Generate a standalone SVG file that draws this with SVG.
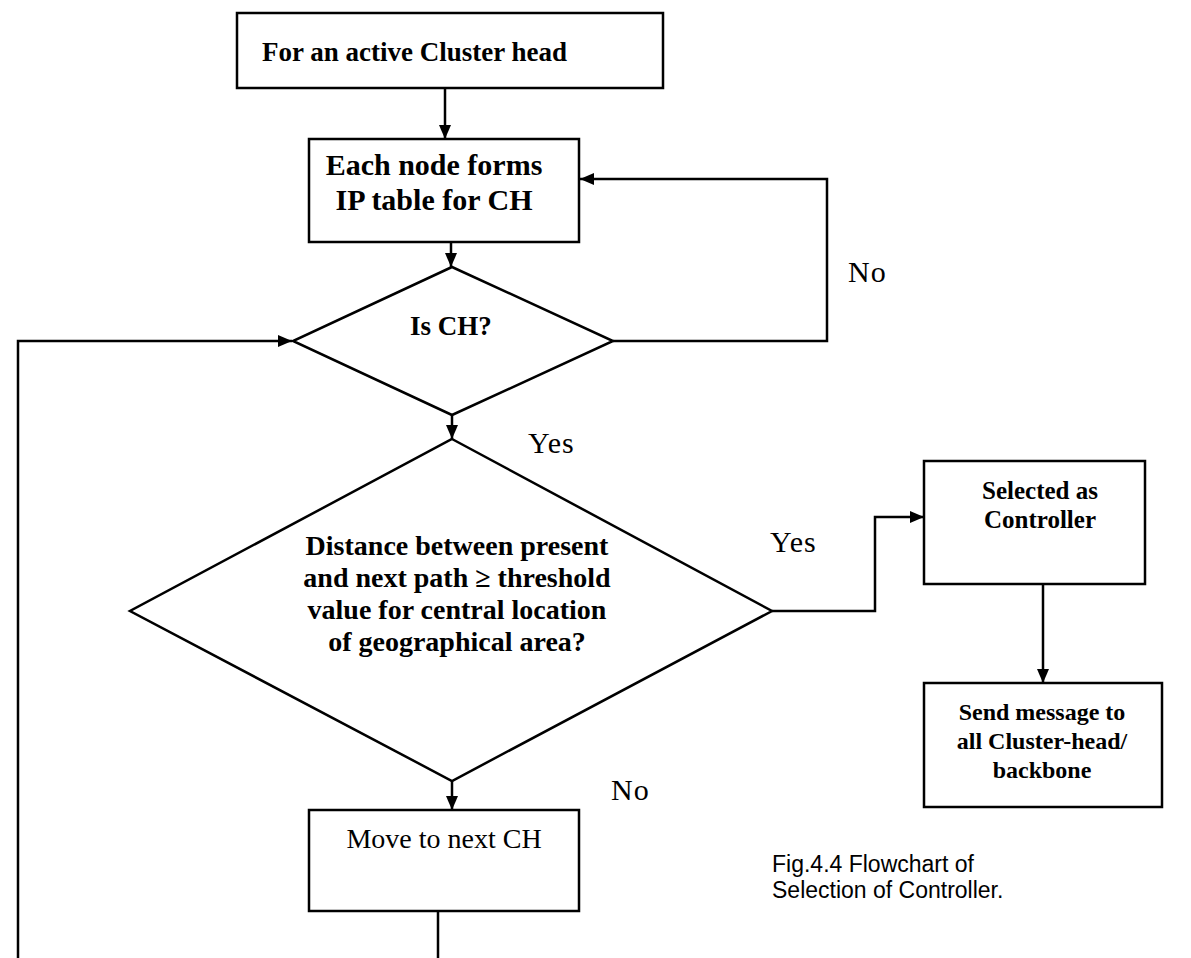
<svg xmlns="http://www.w3.org/2000/svg" width="1191" height="958" viewBox="0 0 1191 958">
  <style>
    .box { fill: #ffffff; stroke: #000000; stroke-width: 2.5; }
    .dec { fill: #ffffff; stroke: #000000; stroke-width: 2.5; stroke-linejoin: miter; }
    .edge { fill: none; stroke: #000000; stroke-width: 2.5; }
    .bold { font-family: "Liberation Serif", "Times New Roman", serif; font-weight: bold; fill: #000; }
    .reg { font-family: "Liberation Serif", "Times New Roman", serif; fill: #000; }
    .lbl { font-family: "Liberation Serif", "Times New Roman", serif; font-size: 30px; letter-spacing: 1px; fill: #000; }
    .cap { font-family: "Liberation Sans", Arial, sans-serif; font-size: 23px; fill: #000; }
    .mid { text-anchor: middle; }
  </style>
  <defs>
    <marker id="arrow" viewBox="0 0 14 12" refX="14" refY="6" markerWidth="14" markerHeight="12" markerUnits="userSpaceOnUse" orient="auto">
      <path d="M0,0 L14,6 L0,12 Z" fill="#000"/>
    </marker>
  </defs>

  <rect width="1191" height="958" fill="#ffffff"/>

  <!-- connectors -->
  <g id="connectors">
    <path class="edge" d="M445,88 V139" marker-end="url(#arrow)"/>
    <path class="edge" d="M451,242 V267" marker-end="url(#arrow)"/>
    <path class="edge" d="M613,341 H827 V179 H580" marker-end="url(#arrow)"/>
    <path class="edge" d="M452,415 V439" marker-end="url(#arrow)"/>
    <path class="edge" d="M772,611 H875 V517 H924" marker-end="url(#arrow)"/>
    <path class="edge" d="M1043,584 V683" marker-end="url(#arrow)"/>
    <path class="edge" d="M452,781 V810" marker-end="url(#arrow)"/>
    <path class="edge" d="M438,911 V964 H18 V341 H292" marker-end="url(#arrow)"/>
  </g>

  <!-- edge labels -->
  <g id="labels">
    <text class="lbl" x="848" y="282">No</text>
    <text class="lbl" x="528" y="453">Yes</text>
    <text class="lbl" x="770" y="552">Yes</text>
    <text class="lbl" x="611" y="800">No</text>
  </g>

  <g id="start">
    <rect class="box" x="237" y="13" width="426" height="75"/>
    <text class="bold" x="262" y="61" font-size="27">For an active Cluster head</text>
  </g>

  <g id="ip-table">
    <rect class="box" x="309" y="139" width="270" height="103"/>
    <text class="bold mid" x="434" y="175" font-size="30">Each node forms</text>
    <text class="bold mid" x="434" y="210" font-size="30">IP table for CH</text>
  </g>

  <g id="is-ch">
    <polygon class="dec" points="452,267 613,341 452,415 293,341"/>
    <text class="bold mid" x="451" y="335" font-size="27">Is CH?</text>
  </g>

  <g id="distance-check">
    <polygon class="dec" points="452,439 772,611 452,781 130,611"/>
    <text class="bold mid" x="457" y="555" font-size="28">Distance between present</text>
    <text class="bold mid" x="457" y="587" font-size="28">and next path ≥ threshold</text>
    <text class="bold mid" x="457" y="619" font-size="28">value for central location</text>
    <text class="bold mid" x="457" y="651" font-size="28">of geographical area?</text>
  </g>

  <g id="selected">
    <rect class="box" x="924" y="461" width="221" height="123"/>
    <text class="bold mid" x="1040" y="499" font-size="25">Selected as</text>
    <text class="bold mid" x="1040" y="528" font-size="25">Controller</text>
  </g>

  <g id="send-message">
    <rect class="box" x="924" y="683" width="238" height="124"/>
    <text class="bold mid" x="1042" y="720" font-size="24">Send message to</text>
    <text class="bold mid" x="1042" y="749" font-size="24">all Cluster-head/</text>
    <text class="bold mid" x="1042" y="778" font-size="24">backbone</text>
  </g>

  <g id="move-next">
    <rect class="box" x="309" y="810" width="270" height="101"/>
    <text class="reg mid" x="444" y="848" font-size="28">Move to next CH</text>
  </g>

  <g id="caption">
    <text class="cap" x="772" y="872">Fig.4.4 Flowchart of</text>
    <text class="cap" x="772" y="898">Selection of Controller.</text>
  </g>
</svg>
